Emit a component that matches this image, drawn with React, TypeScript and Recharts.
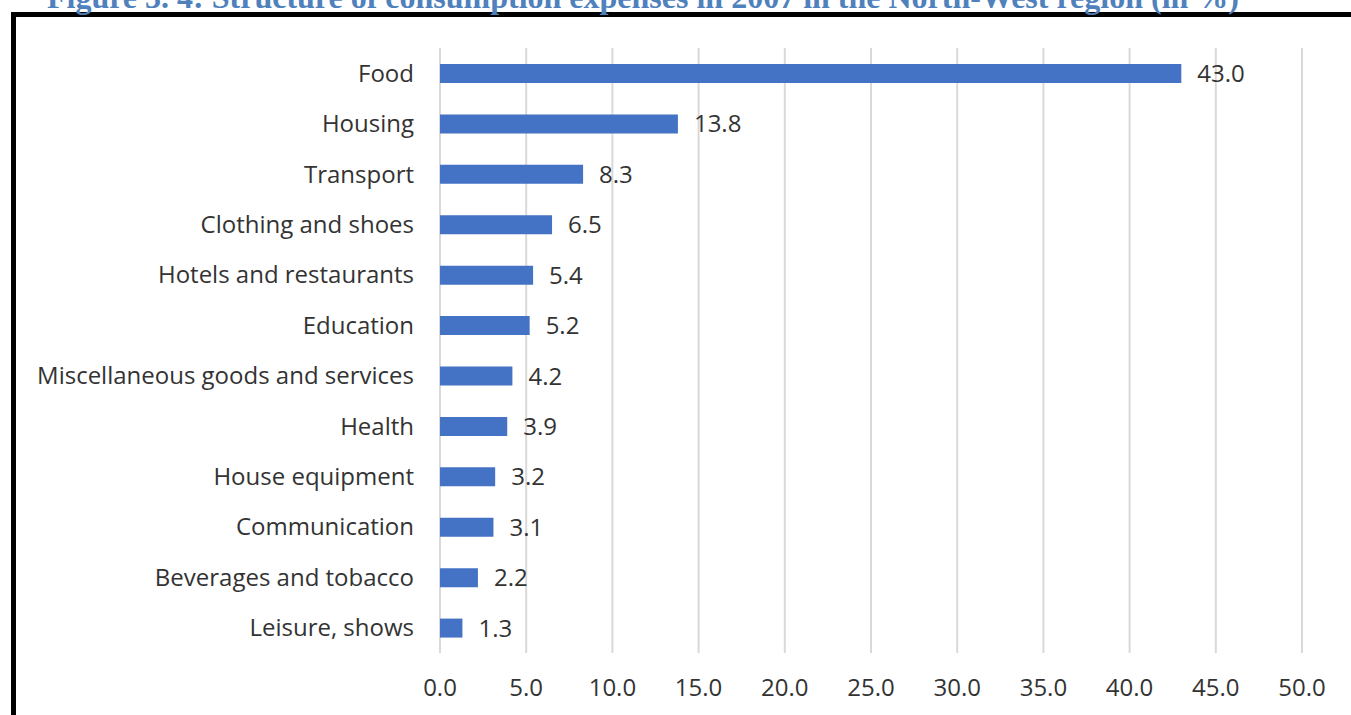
import React from 'react';
import { BarChart, Bar, XAxis, YAxis, CartesianGrid, LabelList } from 'recharts';

const categories = [
    'Food',
    'Housing',
    'Transport',
    'Clothing and shoes',
    'Hotels and restaurants',
    'Education',
    'Miscellaneous goods and services',
    'Health',
    'House equipment',
    'Communication',
    'Beverages and tobacco',
    'Leisure, shows',
];

const shares = [43.0, 13.8, 8.3, 6.5, 5.4, 5.2, 4.2, 3.9, 3.2, 3.1, 2.2, 1.3];

const xTicks = [0, 5, 10, 15, 20, 25, 30, 35, 40, 45, 50];

const title = 'Figure 3. 4: Structure of consumption expenses in 2007 in the North-West region (in %)';

const data = categories.map((name, i) => ({ name, value: shares[i] }));

const FONT = '"Open Sans", sans-serif';
const TEXT = '#333333';

export default function App() {
    return (
        <div style={{ position: 'absolute', left: 0, top: 0, width: 1351, height: 715, background: '#fff', overflow: 'hidden' }}>
            {/* frame around the figure */}
            <div
                style={{
                    position: 'absolute',
                    left: 11,
                    top: 12,
                    width: 1400,
                    height: 800,
                    borderLeft: '5px solid #000',
                    borderTop: '5px solid #000',
                }}
            />
            <div style={{ position: 'absolute', left: 0, top: 0 }}>
                <BarChart
                    width={1351}
                    height={715}
                    data={data}
                    layout="vertical"
                    barSize={19}
                    margin={{ top: 48, right: 49, bottom: 22, left: 0 }}
                >
                    <text
                        x={47}
                        y={8}
                        fill="#4F81BD"
                        fontFamily='"Liberation Serif", serif'
                        fontWeight="bold"
                        fontSize={32}
                    >
                        {title}
                    </text>
                    <CartesianGrid horizontal={false} stroke="#d9d9d9" strokeWidth={2} />
                    <XAxis
                        type="number"
                        domain={[0, 50]}
                        ticks={xTicks}
                        tickFormatter={(v: number) => v.toFixed(1)}
                        axisLine={false}
                        tickLine={false}
                        tickSize={0}
                        tickMargin={26}
                        height={40}
                        tick={{ fill: TEXT, fontSize: 24, fontFamily: FONT }}
                    />
                    <YAxis
                        type="category"
                        dataKey="name"
                        width={440}
                        axisLine={false}
                        tickLine={false}
                        tickSize={0}
                        tickMargin={26}
                        interval={0}
                        tick={{ fill: TEXT, fontSize: 24, fontFamily: FONT }}
                    />
                    <Bar dataKey="value" fill="#4472C4" isAnimationActive={false}>
                        <LabelList
                            dataKey="value"
                            position="right"
                            offset={16}
                            formatter={(v: number) => v.toFixed(1)}
                            fill={TEXT}
                            fontSize={24}
                            fontFamily={FONT}
                        />
                    </Bar>
                </BarChart>
            </div>
        </div>
    );
}
